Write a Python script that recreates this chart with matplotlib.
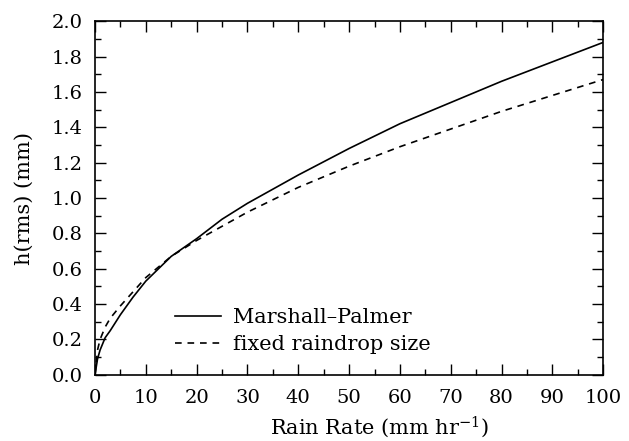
import matplotlib
matplotlib.use("Agg")
import matplotlib.pyplot as plt
from matplotlib.ticker import MultipleLocator, FormatStrFormatter

# Data
rain_rate = [0, 0.5, 1, 2, 3, 5, 7.5, 10, 15, 20, 25, 30, 40, 50, 60, 70, 80, 90, 100]
h_marshall_palmer = [0.0, 0.09, 0.14, 0.21, 0.25, 0.34, 0.44, 0.53, 0.67, 0.77, 0.88, 0.97,
                     1.13, 1.28, 1.42, 1.54, 1.66, 1.77, 1.88]
h_fixed_drop = [0.0, 0.14, 0.20, 0.27, 0.32, 0.39, 0.47, 0.55, 0.67, 0.76, 0.84, 0.92,
                1.06, 1.18, 1.29, 1.39, 1.49, 1.58, 1.67]
labels = ["Marshall\u2013Palmer", "fixed raindrop size"]

plt.rcParams['font.family'] = ['DejaVu Serif']
plt.rcParams['mathtext.fontset'] = 'dejavuserif'

fig = plt.figure(figsize=(6.29, 4.41), dpi=100)
ax = fig.add_axes([0.151, 0.150, 0.808, 0.802])

ax.plot(rain_rate, h_marshall_palmer, color='black', lw=1.2, linestyle='-', label=labels[0])
ax.plot(rain_rate, h_fixed_drop, color='black', lw=1.2, linestyle=(0, (4, 3.5)), label=labels[1])

ax.set_xlim(0, 100)
ax.set_ylim(0, 2.0)
ax.xaxis.set_major_locator(MultipleLocator(10))
ax.xaxis.set_minor_locator(MultipleLocator(5))
ax.yaxis.set_major_locator(MultipleLocator(0.2))
ax.yaxis.set_minor_locator(MultipleLocator(0.1))
ax.yaxis.set_major_formatter(FormatStrFormatter('%.1f'))

ax.tick_params(which='both', direction='in', top=True, right=True, width=1.0, labelsize=14)
ax.tick_params(which='major', length=8)
ax.tick_params(which='minor', length=4)
ax.tick_params(axis='x', which='major', pad=10)
ax.tick_params(axis='y', which='major', pad=9)
for s in ax.spines.values():
    s.set_linewidth(1.2)

ax.set_xlabel('Rain Rate (mm hr$^{-1}$)', fontsize=15)
ax.set_ylabel('h(rms) (mm)', fontsize=15)
ax.xaxis.set_label_coords(0.559, -0.112)
ax.yaxis.set_label_coords(-0.12, 0.5)

ax.legend(loc='upper left', bbox_to_anchor=(175/629, 1 - 308/441), bbox_transform=fig.transFigure,
          frameon=False, fontsize=15, handlelength=2.2, handletextpad=0.6,
          labelspacing=0.4, borderpad=0, borderaxespad=0)

fig.savefig('out.png', dpi=100, facecolor='white')
